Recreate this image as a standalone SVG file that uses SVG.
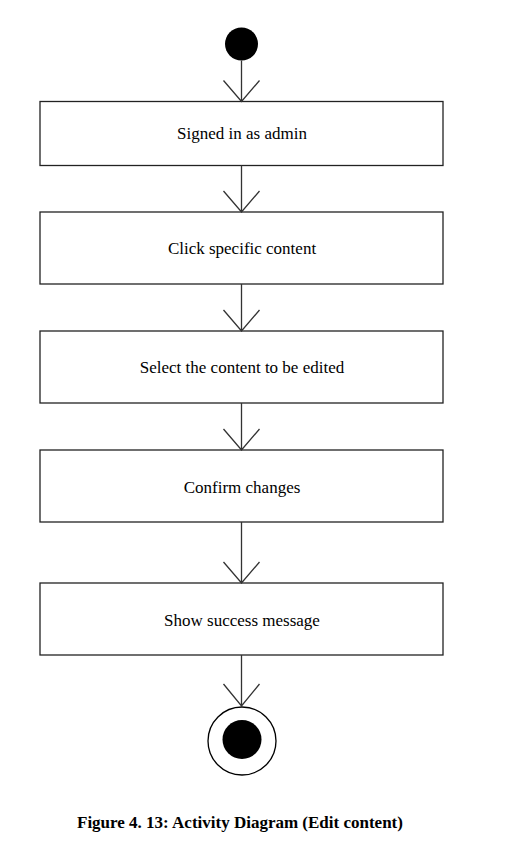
<svg xmlns="http://www.w3.org/2000/svg" width="522" height="842" viewBox="0 0 522 842">
<style>
.box{fill:#fff;stroke:#222;stroke-width:1.3}
.lbl{font-family:"Liberation Serif","Times New Roman",serif;font-size:17px;fill:#000;text-anchor:middle}
.edge{stroke:#333;stroke-width:1.3;fill:none}
.cap{font-family:"Liberation Serif","Times New Roman",serif;font-size:17px;font-weight:bold;fill:#000}
</style>
<rect width="522" height="842" fill="#fff"/>
<g id="start"><circle cx="241.5" cy="44" r="16.5" fill="#000"/></g>
<g id="n1"><rect class="box" x="40" y="101.5" width="403" height="64"/><text class="lbl" x="242" y="138.5">Signed in as admin</text></g>
<g id="n2"><rect class="box" x="40" y="212" width="403" height="72"/><text class="lbl" x="242" y="253.5">Click specific content</text></g>
<g id="n3"><rect class="box" x="40" y="331" width="403" height="72"/><text class="lbl" x="242" y="372.5">Select the content to be edited</text></g>
<g id="n4"><rect class="box" x="40" y="450" width="403" height="72"/><text class="lbl" x="242" y="492.5">Confirm changes</text></g>
<g id="n5"><rect class="box" x="40" y="583" width="403" height="72"/><text class="lbl" x="242" y="625.5">Show success message</text></g>
<g id="end"><circle cx="242" cy="741" r="34" fill="#fff" stroke="#000" stroke-width="1.3"/><circle cx="242" cy="739.5" r="19.5" fill="#000"/></g>
<g id="connectors">
<path class="edge" d="M241.5 60.5V101.5M223.5 80.5L241.5 101.5L259.5 80.5"/>
<path class="edge" d="M241.5 165.5V212M223.5 191L241.5 212L259.5 191"/>
<path class="edge" d="M241.5 284V331M223.5 310L241.5 331L259.5 310"/>
<path class="edge" d="M241.5 403V450M223.5 429L241.5 450L259.5 429"/>
<path class="edge" d="M241.5 522V583M223.5 562L241.5 583L259.5 562"/>
<path class="edge" d="M241.5 655V707M223.5 684L241.5 706L259.5 684"/>
</g>
<text class="cap" x="77" y="828">Figure 4. 13: Activity Diagram (Edit content)</text>
</svg>
